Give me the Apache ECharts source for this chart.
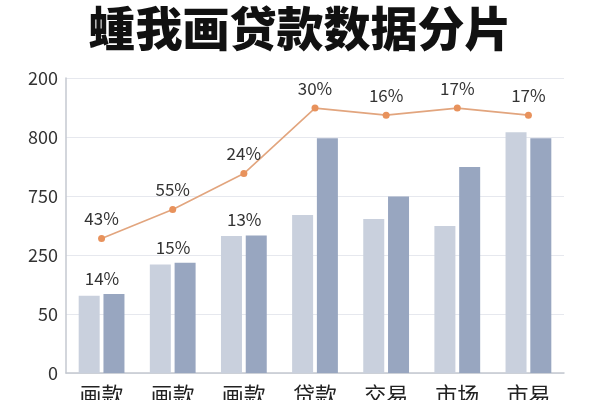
<!DOCTYPE html>
<html>
<head>
<meta charset="utf-8">
<script src="https://cdn.jsdelivr.net/npm/echarts@6/dist/echarts.min.js"></script>
<style>
  html, body { margin: 0; padding: 0; background: #fff; }
  #main { width: 600px; height: 400px; }
</style>
</head>
<body>
<div id="main"></div>
<script>
// 坐标轴刻度（原图刻度非线性，按格位置绘制）
var yTicks = ['0', '50', '250', '750', '800', '200'];
var categories = ['画款', '画款', '画款', '贷款', '交易', '市场', '市易'];
// 柱子高度（以刻度格为单位）
var lightBars = [1.31, 1.84, 2.32, 2.68, 2.61, 2.49, 4.08];
var darkBars = [1.34, 1.87, 2.33, 3.98, 2.99, 3.49, 3.98];
var barLabels = ['14%', '15%', '13%', '', '', '', ''];
// 折线
var lineValues = [2.28, 2.77, 3.38, 4.49, 4.37, 4.49, 4.37];
var lineLabels = ['43%', '55%', '24%', '30%', '16%', '17%', '17%'];

var font = '"Noto Sans CJK SC", "Noto Sans", sans-serif';
var myChart = echarts.init(document.getElementById('main'));

myChart.setOption({
  animation: false,
  title: {
    text: '蝩我画贷款数据分片',
    left: 'center',
    top: 0,
    textStyle: { fontSize: 47, fontWeight: 900, color: '#111', fontFamily: font }
  },
  grid: { left: 66, right: 36, top: 78, bottom: 27, outerBoundsMode: 'none' },
  xAxis: {
    type: 'category',
    data: categories,
    axisLine: { lineStyle: { color: '#c4c8d0', width: 1.5 } },
    axisTick: { show: false },
    axisLabel: { fontSize: 22, color: '#222', margin: 11, fontFamily: font }
  },
  yAxis: {
    type: 'value',
    min: 0,
    max: 5,
    interval: 1,
    axisLine: { show: true, lineStyle: { color: '#c4c8d0', width: 1.5 } },
    axisTick: { show: false },
    splitLine: { lineStyle: { color: '#e6e8ee' } },
    axisLabel: {
      fontSize: 18, color: '#333', margin: 8, fontFamily: font,
      formatter: function (v) { return yTicks[Math.round(v)]; }
    }
  },
  series: [
    {
      type: 'bar',
      data: lightBars,
      barWidth: 21,
      barGap: '18%',
      itemStyle: { color: '#c9d0dd' }
    },
    {
      type: 'bar',
      data: darkBars,
      barWidth: 21,
      itemStyle: { color: '#98a6c0' },
      label: {
        show: true,
        position: 'top',
        offset: [-12, -2],
        fontSize: 17,
        color: '#333',
        fontFamily: font,
        formatter: function (p) { return barLabels[p.dataIndex]; }
      }
    },
    {
      type: 'line',
      data: lineValues,
      symbol: 'circle',
      symbolSize: 7,
      lineStyle: { color: '#e2a57e', width: 1.6 },
      itemStyle: { color: '#e8925c' },
      label: {
        show: true,
        position: 'top',
        distance: 8,
        fontSize: 17,
        color: '#333',
        fontFamily: font,
        formatter: function (p) { return lineLabels[p.dataIndex]; }
      }
    }
  ]
});
</script>
</body>
</html>
